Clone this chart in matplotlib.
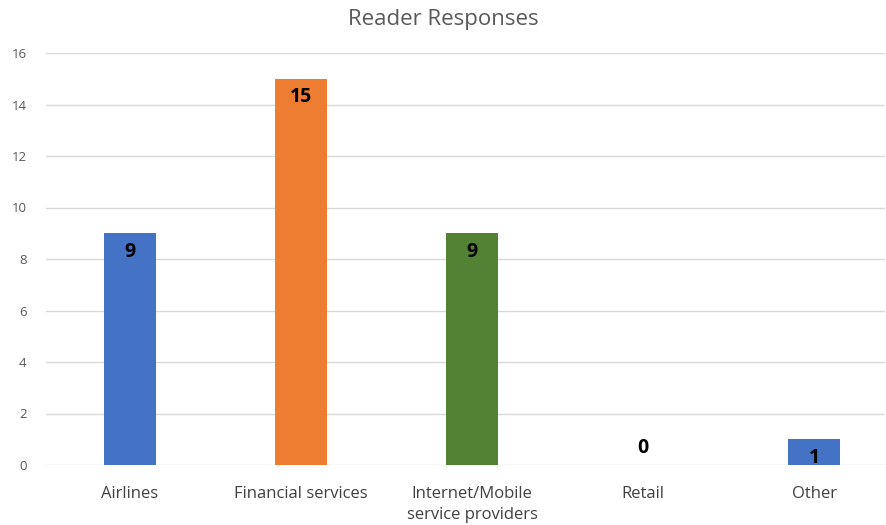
import matplotlib
matplotlib.use("Agg")
import matplotlib.pyplot as plt

categories = ["Airlines", "Financial services", "Internet/Mobile\nservice providers", "Retail", "Other"]
values = [9, 15, 9, 0, 1]
colors = ["#4472C4", "#ED7D31", "#548235", "#A5A5A5", "#4472C4"]
yticks = [0, 2, 4, 6, 8, 10, 12, 14, 16]

plt.rcParams['font.family'] = ['Open Sans', 'DejaVu Sans']

fig = plt.figure(figsize=(8.87, 5.25), dpi=100)
ax = fig.add_axes([46/887, 60/525, (885-46)/887, (465-53)/525])
x = list(range(len(categories)))
bars = ax.bar(x, values, width=0.30, color=colors, zorder=3)
ax.set_xlim(-0.491, 4.415)
ax.set_ylim(0, 16)
ax.set_yticks(yticks)
ax.set_yticklabels([str(t) for t in yticks], color="#595959", fontsize=9.5)
ax.set_xticks(x)
ax.set_xticklabels(categories, color="#404040", fontsize=12, linespacing=1.45)
ax.tick_params(axis='both', length=0)
ax.tick_params(axis='y', pad=14)
ax.tick_params(axis='x', pad=15)
for s in ax.spines.values():
    s.set_visible(False)
ax.grid(axis='y', color="#D9D9D9", linewidth=1, zorder=0)

for xi, v in zip(x, values):
    if v >= 1:
        ax.annotate(str(v), (xi, v), xytext=(0, -6), textcoords='offset points',
                    ha='center', va='top', fontsize=14, fontweight='bold', color='black', zorder=4)
    else:
        ax.annotate(str(v), (xi, v), xytext=(0, 5), textcoords='offset points',
                    ha='center', va='bottom', fontsize=14, fontweight='bold', color='black', zorder=4)

fig.text(0.5, 1 - 19/525, "Reader Responses", ha='center', va='center', fontsize=16, color="#595959")
fig.savefig("out.png", dpi=100)
